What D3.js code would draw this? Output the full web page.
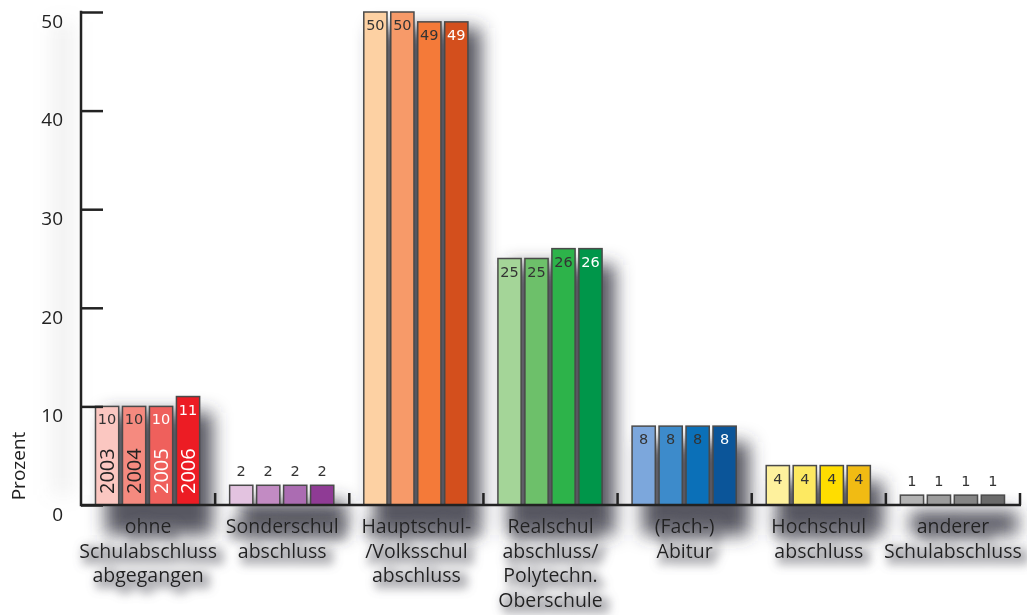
<!DOCTYPE html>
<html>
<head>
<meta charset="utf-8">
<script src="https://cdn.jsdelivr.net/npm/d3@7"></script>
<style>
  html, body { margin: 0; padding: 0; background: #fff; }
  svg { display: block; }
</style>
</head>
<body>
<svg id="chart" width="1027" height="615"></svg>
<script>
// Schulabschluss der Eltern, Anteile in Prozent nach Erhebungsjahr
const categories = [
  ["ohne", "Schulabschluss", "abgegangen"],
  ["Sonderschul", "abschluss"],
  ["Hauptschul-", "/Volksschul", "abschluss"],
  ["Realschul", "abschluss/", "Polytechn.", "Oberschule"],
  ["(Fach-)", "Abitur"],
  ["Hochschul", "abschluss"],
  ["anderer", "Schulabschluss"]
];
const years = ["2003", "2004", "2005", "2006"];
const values2003 = [10, 2, 50, 25, 8, 4, 1];
const values2004 = [10, 2, 50, 25, 8, 4, 1];
const values2005 = [10, 2, 49, 26, 8, 4, 1];
const values2006 = [11, 2, 49, 26, 8, 4, 1];
const yTicks = [0, 10, 20, 30, 40, 50];
const yLabel = "Prozent";

const seriesValues = [values2003, values2004, values2005, values2006];

// fill colours per category, light to dark over the years
const palette = [
  ["#fbc7c1", "#f58a7f", "#ef605c", "#ec1c24"],
  ["#e3c3e0", "#c28bc3", "#ab6cb2", "#8f3b95"],
  ["#fdd1a3", "#f79a69", "#f47a39", "#d34f1d"],
  ["#a4d598", "#6dc06a", "#2db34a", "#00964a"],
  ["#7ca7dc", "#3d8bcb", "#0b70b8", "#0b5599"],
  ["#fef19d", "#fde961", "#ffdd00", "#f1bb13"],
  ["#b3b3b3", "#9c9c9c", "#858585", "#6a6a6a"]
];
// value label colour on the bar (white on the darkest fills)
const labelInk = [
  ["#333", "#333", "#fff", "#fff"],
  ["#333", "#333", "#333", "#333"],
  ["#333", "#333", "#333", "#fff"],
  ["#333", "#333", "#333", "#fff"],
  ["#333", "#333", "#333", "#fff"],
  ["#333", "#333", "#333", "#333"],
  ["#333", "#333", "#333", "#333"]
];
const yearInk = ["#222", "#222", "#fff", "#fff"];

const svg = d3.select("#chart");
const plotLeft = 81, plotRight = 1020, plotTop = 12, plotBase = 505;

const defs = svg.append("defs");
defs.append("filter").attr("id", "shadow")
  .attr("x", "-50%").attr("y", "-50%").attr("width", "200%").attr("height", "200%")
  .append("feGaussianBlur").attr("stdDeviation", 9);

// grey halo offset behind the category labels
const tf = defs.append("filter").attr("id", "textShadow")
  .attr("x", "-30%").attr("y", "-80%").attr("width", "160%").attr("height", "260%");
tf.append("feMorphology").attr("in", "SourceAlpha").attr("operator", "dilate").attr("radius", 3).attr("result", "fat");
tf.append("feGaussianBlur").attr("in", "fat").attr("stdDeviation", 5).attr("result", "blur");
tf.append("feOffset").attr("in", "blur").attr("dx", 5).attr("dy", 4).attr("result", "off");
tf.append("feFlood").attr("flood-color", "#6a6a72").attr("flood-opacity", 0.5).attr("result", "col");
tf.append("feComposite").attr("in", "col").attr("in2", "off").attr("operator", "in").attr("result", "sh");
const tm = tf.append("feMerge");
tm.append("feMergeNode").attr("in", "sh");
tm.append("feMergeNode").attr("in", "SourceGraphic");

const rows = categories.map((c, i) => ({
  i, lines: c,
  vals: seriesValues.map((s, j) => ({ i, j, year: years[j], v: s[i] }))
}));

const x0 = d3.scaleBand().domain(d3.range(categories.length)).range([plotLeft, plotRight]).padding(0);
const x1 = d3.scaleBand().domain(d3.range(years.length))
  .range([14.5, x0.bandwidth() - 15.5]).paddingInner(0.14).paddingOuter(0);
const y = d3.scaleLinear().domain([0, 50]).range([plotBase, plotTop]);

const labelFont = "'Open Sans', 'Noto Sans', sans-serif";
const numFont = "'DejaVu Sans', Verdana, sans-serif";

// soft drop shadows behind each group of bars
const shadowLayer = svg.append("g").attr("filter", "url(#shadow)");
rows.forEach(r => {
  const maxV = d3.max(r.vals, d => d.v);
  const xa = x0(r.i) + x1(0) + 10;
  const xb = x0(r.i) + x1(years.length - 1) + x1.bandwidth() + 13;
  shadowLayer.append("rect")
    .attr("x", xa).attr("y", y(maxV) + 16)
    .attr("width", xb - xa).attr("height", plotBase - y(maxV) + 14)
    .attr("fill", "#3a3a44").attr("opacity", 0.85);
});
// faint haze along the vertical axis
shadowLayer.append("rect").attr("x", plotLeft - 30).attr("y", plotTop + 10)
  .attr("width", 24).attr("height", plotBase - plotTop - 20).attr("fill", "#999").attr("opacity", 0.12);

// bars
const groups = svg.append("g").selectAll("g.cat").data(rows).join("g")
  .attr("class", "cat")
  .attr("transform", d => `translate(${x0(d.i)},0)`);

groups.selectAll("rect").data(d => d.vals).join("rect")
  .attr("x", d => x1(d.j))
  .attr("y", d => y(d.v))
  .attr("width", x1.bandwidth())
  .attr("height", d => y(0) - y(d.v))
  .attr("fill", d => palette[d.i][d.j])
  .attr("stroke", "#4a4a4a")
  .attr("stroke-width", 1.5);

// value labels: inside the bar near its top, above it for short bars
groups.selectAll("text.val").data(d => d.vals).join("text")
  .attr("class", "val")
  .attr("x", d => x1(d.j) + x1.bandwidth() / 2)
  .attr("y", d => (y(0) - y(d.v) < 25) ? y(d.v) - 9 : y(d.v) + 18)
  .attr("text-anchor", "middle")
  .attr("font-family", numFont).attr("font-size", 14.5)
  .attr("fill", d => (y(0) - y(d.v) < 25) ? "#333" : labelInk[d.i][d.j])
  .text(d => d.v);

// year labels, written vertically in the first group
groups.filter(d => d.i === 0).selectAll("text.year").data(d => d.vals).join("text")
  .attr("class", "year")
  .attr("transform", d => `translate(${x1(d.j) + x1.bandwidth() / 2 + 7},${plotBase - 11}) rotate(-90)`)
  .attr("font-family", labelFont).attr("font-size", 20)
  .attr("fill", d => yearInk[d.j])
  .text(d => d.year);

// y axis
const yAxis = d3.axisLeft(y).tickValues(yTicks).tickSizeInner(-22).tickSizeOuter(0).tickPadding(18);
const yg = svg.append("g").attr("transform", `translate(${plotLeft},0)`).call(yAxis);
yg.select(".domain").remove();
yg.selectAll(".tick line").attr("stroke", "#222").attr("stroke-width", 2.5);
yg.selectAll(".tick text")
  .attr("dy", "0.8em")
  .attr("font-family", labelFont).attr("font-size", 19)
  .attr("fill", "#222");
svg.append("line")
  .attr("x1", plotLeft).attr("x2", plotLeft).attr("y1", plotTop - 1.25).attr("y2", plotBase + 1.25)
  .attr("stroke", "#222").attr("stroke-width", 2.5);

// x axis with short upward separators between categories
svg.append("line")
  .attr("x1", plotLeft).attr("x2", plotRight + 1).attr("y1", plotBase).attr("y2", plotBase)
  .attr("stroke", "#222").attr("stroke-width", 2.5);
const bounds = d3.range(1, categories.length + 1).map(i => x0(i - 1) + x0.bandwidth());
svg.append("g").selectAll("line").data(bounds).join("line")
  .attr("x1", d => d).attr("x2", d => d)
  .attr("y1", plotBase).attr("y2", plotBase - 12)
  .attr("stroke", "#222").attr("stroke-width", 2.5);

// category labels
const catLabels = svg.append("g").attr("filter", "url(#textShadow)");
rows.forEach(r => {
  const cx = x0(r.i) + x0.bandwidth() / 2;
  r.lines.forEach((ln, k) => {
    catLabels.append("text")
      .attr("x", cx).attr("y", 533 + k * 24.7)
      .attr("text-anchor", "middle")
      .attr("font-family", labelFont).attr("font-size", 19.5)
      .attr("fill", "#222")
      .text(ln);
  });
});

// axis title
svg.append("text")
  .attr("transform", "translate(25,466) rotate(-90)")
  .attr("text-anchor", "middle")
  .attr("font-family", labelFont).attr("font-size", 19)
  .attr("fill", "#222")
  .text(yLabel);
</script>
</body>
</html>
